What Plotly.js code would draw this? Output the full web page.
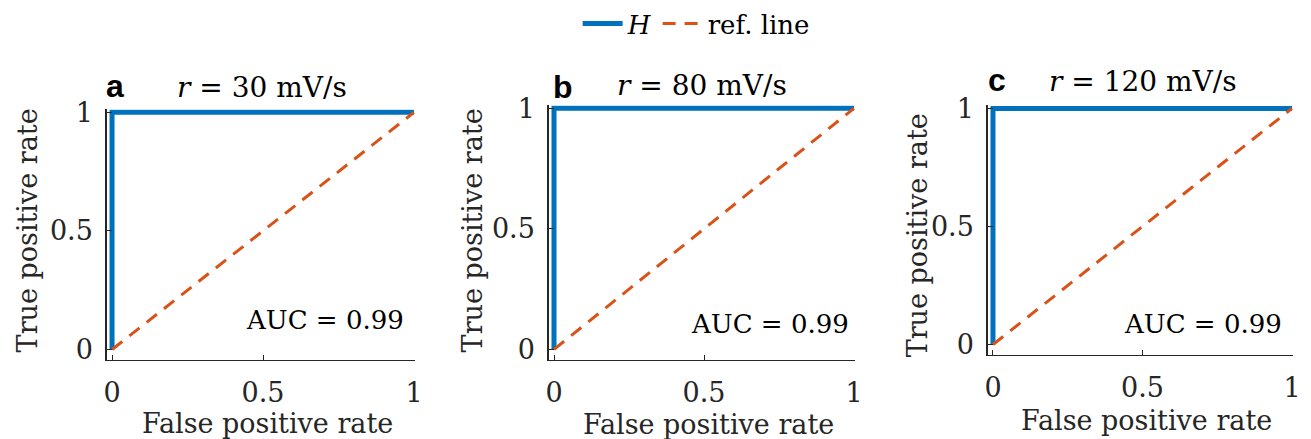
<!DOCTYPE html>
<html>
<head>
<meta charset="utf-8">
<script src="https://cdn.plot.ly/plotly-3.0.1.min.js"></script>
<style>html,body{margin:0;padding:0;background:#fff;}#plot{width:1311px;height:439px;}</style>
</head>
<body>
<div id="plot"></div>
<script>
// ---- data ----
const panelLetters = ["a", "b", "c"];
const rates = [30, 80, 120];            // mV/s
const aucValues = [0.99, 0.99, 0.99];
const fprH = [0, 0, 1];                  // ROC of H (false positive rate)
const tprH = [0, 1, 1];                  // ROC of H (true positive rate)
const refX = [0, 1];                     // reference diagonal
const refY = [0, 1];
const tickVals = [0, 0.5, 1];
const tickText = ["0", "0.5", "1"];

// ---- layout geometry (pixels) ----
const W = 1311, H = 439;
const boxes = [
  {l: 106.6, r: 414.9, t: 103.9, b: 358.4},
  {l: 548.6, r: 854.9, t: 99.8,  b: 358.5},
  {l: 987.6, r: 1292.9, t: 99.9, b: 353.3}
];
const px = v => v / W, py = v => 1 - v / H;

const blue = "#0072BD", orange = "#D95319", axc = "#262626";
const serif = "DejaVu Serif, serif";

const traces = [];
const layout = {
  width: W, height: H, margin: {l: 0, r: 0, t: 0, b: 0},
  paper_bgcolor: "#fff", plot_bgcolor: "#fff",
  showlegend: true,
  legend: {orientation: "h", x: 0.531, y: 0.962, xanchor: "center", yanchor: "middle",
           font: {family: serif, size: 26, color: "#000"}, bgcolor: "rgba(0,0,0,0)",
           itemwidth: 40, tracegroupgap: 0},
  annotations: []
};

const titlePos = [{x: 262, y: 82}, {x: 702, y: 80}, {x: 1143, y: 76}];
const letterPos = [{x: 104, y: 80}, {x: 551, y: 81}, {x: 986, y: 74}];
const aucPos = [{x: 325, y: 318}, {x: 770, y: 322}, {x: 1203, y: 322}];
const xtPos = [{x: 267, y: 423}, {x: 708, y: 424}, {x: 1146, y: 420}];
const ytPos = [{x: 27, y: 227}, {x: 472, y: 227}, {x: 917, y: 232}];

for (let i = 0; i < 3; i++) {
  const sfx = i === 0 ? "" : String(i + 1);
  const b = boxes[i];
  traces.push({x: fprH, y: tprH, type: "scatter", mode: "lines", name: "<i>H</i>",
    line: {color: blue, width: 5}, xaxis: "x" + sfx, yaxis: "y" + sfx,
    showlegend: i === 0, legendgroup: "H", hoverinfo: "skip"});
  traces.push({x: refX, y: refY, type: "scatter", mode: "lines", name: "ref. line",
    line: {color: orange, width: 3, dash: "13px,9px"}, xaxis: "x" + sfx, yaxis: "y" + sfx,
    showlegend: i === 0, legendgroup: "ref", hoverinfo: "skip"});
  const common = {showgrid: false, zeroline: false, showline: true, linecolor: axc, linewidth: 1.3,
    ticks: "inside", ticklen: 5, tickwidth: 1, tickcolor: axc, tickmode: "array",
    tickvals: tickVals, ticktext: tickText, fixedrange: true,
    tickfont: {family: serif, size: 27, color: axc}};
  layout["xaxis" + sfx] = Object.assign({}, common, {domain: [px(b.l), px(b.r)], range: [-0.018, 1.003],
    anchor: "y" + sfx, ticklabelstandoff: 9});
  layout["yaxis" + sfx] = Object.assign({}, common, {domain: [py(b.b), py(b.t)], range: [-0.043, 1.013],
    anchor: "x" + sfx, ticklabelstandoff: 7});

  layout.annotations.push({text: "<i>r</i> = " + rates[i] + " mV/s", xref: "paper", yref: "paper",
    x: px(titlePos[i].x), y: py(titlePos[i].y), xanchor: "center", yanchor: "middle", showarrow: false,
    font: {family: serif, size: 28, color: "#000"}});
  layout.annotations.push({text: "<b>" + panelLetters[i] + "</b>", xref: "paper", yref: "paper",
    x: px(letterPos[i].x), y: py(letterPos[i].y), xanchor: "left", yanchor: "middle", showarrow: false,
    font: {family: "Liberation Sans, Arial, sans-serif", size: 32, color: "#000"}});
  layout.annotations.push({text: "AUC = " + aucValues[i].toFixed(2), xref: "paper", yref: "paper",
    x: px(aucPos[i].x), y: py(aucPos[i].y), xanchor: "center", yanchor: "middle", showarrow: false,
    font: {family: serif, size: 26, color: "#000"}});
  layout.annotations.push({text: "False positive rate", xref: "paper", yref: "paper",
    x: px(xtPos[i].x), y: py(xtPos[i].y), xanchor: "center", yanchor: "middle", showarrow: false,
    borderpad: 0, font: {family: serif, size: 27, color: axc}});
  layout.annotations.push({text: "True positive rate", xref: "paper", yref: "paper", textangle: -90,
    x: px(ytPos[i].x), y: py(ytPos[i].y), xanchor: "center", yanchor: "middle", showarrow: false,
    borderpad: 0, font: {family: serif, size: 27, color: axc}});
}

Plotly.newPlot("plot", traces, layout, {staticPlot: true, displayModeBar: false});
</script>
</body>
</html>
